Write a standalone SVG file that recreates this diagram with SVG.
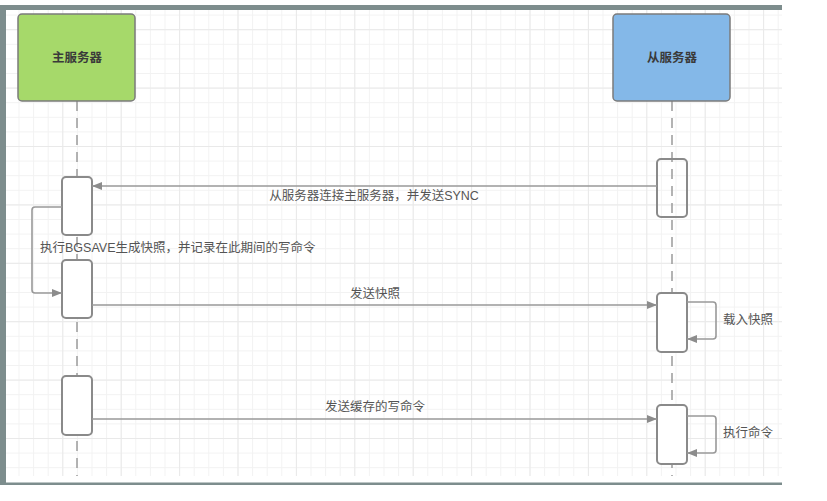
<svg xmlns="http://www.w3.org/2000/svg" width="827" height="501" viewBox="0 0 827 501">
  <defs>
    <pattern id="gMinor" patternUnits="userSpaceOnUse" x="3.9" y="0" width="14.6" height="14.6">
      <path d="M14.6 0.5 H0.5 V14.6" fill="none" stroke="#f2f2f2" stroke-width="1"/>
    </pattern>
    <pattern id="gMajor" patternUnits="userSpaceOnUse" x="3.9" y="29.2" width="58.4" height="58.4">
      <path d="M58.4 0.5 H0.5 V58.4" fill="none" stroke="#e9e9e9" stroke-width="1"/>
    </pattern>
    <marker id="arr" markerWidth="10" markerHeight="8" refX="10" refY="4" orient="auto" markerUnits="userSpaceOnUse">
      <path d="M0 0 L10 4 L0 8 Z" fill="#8c8c8c"/>
    </marker>
    <style>
      .title { font-family: "Noto Sans CJK SC", "Liberation Sans", sans-serif; font-size: 12.5px; font-weight: bold; fill: #3a3a3a; text-anchor: middle; }
      .lbl { font-family: "Liberation Sans", "Noto Sans CJK SC", sans-serif; font-size: 12.5px; fill: #555; }
      .mid { text-anchor: middle; }
      .life { stroke: #9a9a9a; stroke-width: 1.5; stroke-dasharray: 10 7; fill: none; }
      .act { fill: #fff; stroke: #8a8a8a; stroke-width: 2; }
      .conn { stroke: #999; stroke-width: 1.6; fill: none; }
    </style>
  </defs>

  <rect width="827" height="501" fill="#fff"/>
  <!-- frame -->
  <rect x="6" y="10" width="776" height="466" fill="url(#gMinor)"/>
  <rect x="6" y="10" width="776" height="466" fill="url(#gMajor)"/>
  <rect x="0" y="5" width="782" height="5" fill="#7d8d8d"/>
  <rect x="0" y="5" width="6" height="480" fill="#7d8d8d"/>
  <rect x="0" y="482.5" width="782" height="2.5" fill="#7d8d8d"/>

  <!-- lifelines -->
  <g id="lifelines">
    <line class="life" x1="77" y1="101" x2="77" y2="476"/>
    <line class="life" x1="672" y1="101" x2="672" y2="476"/>
  </g>

  <g id="master">
    <rect x="18" y="14" width="117" height="87" rx="4" fill="#a6d96a" stroke="#7b7b7b" stroke-width="1.5"/>
    <text class="title" x="77" y="61.5">主服务器</text>
  </g>
  <g id="slave">
    <rect x="613" y="14" width="117" height="87" rx="4" fill="#84b8e8" stroke="#7b7b7b" stroke-width="1.5"/>
    <text class="title" x="672" y="61.5">从服务器</text>
  </g>

  <g id="master-act-1"><rect class="act" x="62" y="177" width="30" height="58" rx="4"/></g>
  <g id="master-act-2"><rect class="act" x="62" y="260" width="30" height="58" rx="4"/></g>
  <g id="master-act-3"><rect class="act" x="62" y="376" width="30" height="59" rx="4"/></g>
  <g id="slave-act-1"><rect class="act" x="657" y="159" width="30" height="58" rx="4" style="fill:none"/></g>
  <g id="slave-act-2"><rect class="act" x="657" y="293" width="30" height="59" rx="4"/></g>
  <g id="slave-act-3"><rect class="act" x="657" y="405" width="30" height="59" rx="4"/></g>

  <g id="connectors">
    <line class="conn" x1="657" y1="186" x2="92" y2="186" marker-end="url(#arr)"/>
    <path class="conn" d="M62 207 H35 Q32 207 32 210 V290 Q32 293 35 293 H62" marker-end="url(#arr)"/>
    <line class="conn" x1="92" y1="305" x2="657" y2="305" marker-end="url(#arr)"/>
    <path class="conn" d="M687 302 H713 Q716 302 716 305 V336 Q716 339 713 339 H687" marker-end="url(#arr)"/>
    <line class="conn" x1="92" y1="419" x2="657" y2="419" marker-end="url(#arr)"/>
    <path class="conn" d="M687 416 H713 Q716 416 716 419 V450 Q716 453 713 453 H687" marker-end="url(#arr)"/>
  </g>

  <g id="labels">
    <text class="lbl mid" x="374" y="200">从服务器连接主服务器，并发送SYNC</text>
    <text class="lbl" x="40" y="252">执行BGSAVE生成快照，并记录在此期间的写命令</text>
    <text class="lbl mid" x="375" y="298">发送快照</text>
    <text class="lbl" x="723" y="324">载入快照</text>
    <text class="lbl mid" x="375" y="411">发送缓存的写命令</text>
    <text class="lbl" x="723" y="437">执行命令</text>
  </g>
</svg>
